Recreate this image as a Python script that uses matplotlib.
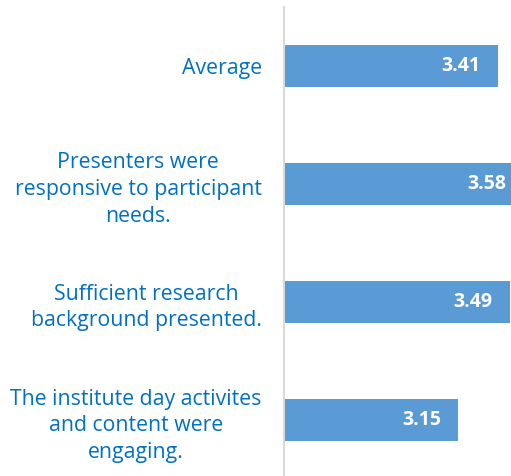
import matplotlib
matplotlib.use("Agg")
import matplotlib.pyplot as plt

# data, top to bottom as in the chart
categories = [
    "Average",
    "Presenters were\nresponsive to participant\nneeds.",
    "Sufficient research\nbackground presented.",
    "The institute day activites\nand content were\nengaging.",
]
scores = [3.41, 3.58, 3.49, 3.15]

plt.rcParams["font.family"] = ["Open Sans", "DejaVu Sans"]

fig = plt.figure(figsize=(5.11, 4.76), dpi=100)
ax = fig.add_axes([284 / 511, -3.5 / 476, 227 / 511, 472.5 / 476])

ypos = list(range(len(categories)))
bars = ax.barh(ypos, scores, height=0.356, left=0, color="#5B9BD5")
ax.set_xlim(2, 2 + 227 / 151.5)
ax.set_ylim(len(categories) - 0.5, -0.5)

for y, v in zip(ypos, scores):
    ax.annotate("%.2f" % v, xy=(v, y), xytext=(-12.2, 0), textcoords="offset points",
                ha="right", va="center", color="white", fontsize=14, fontweight="bold",
                annotation_clip=False)

ax.set_yticks(ypos)
ax.set_yticklabels(categories, color="#0070C0", fontsize=15.3, multialignment="center",
                   linespacing=1.35)
ax.tick_params(axis="y", length=0, pad=16)
ax.xaxis.set_visible(False)
for s in ["top", "right", "bottom"]:
    ax.spines[s].set_visible(False)
ax.spines["left"].set_color("#D9D9D9")
ax.spines["left"].set_linewidth(1.5)

fig.savefig("out.png", dpi=100)
